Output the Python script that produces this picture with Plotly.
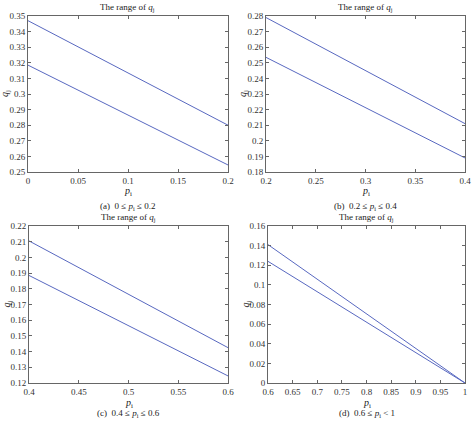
import plotly.graph_objects as go

W, H = 474, 421

# ---- data ----
p_a = [0.0, 0.1, 0.2]
q_a_upper = [0.347, 0.3135, 0.280]
q_a_lower = [0.3185, 0.2865, 0.2545]

p_b = [0.2, 0.3, 0.4]
q_b_upper = [0.279, 0.245, 0.211]
q_b_lower = [0.2535, 0.2215, 0.189]

p_c = [0.4, 0.5, 0.6]
q_c_upper = [0.2105, 0.1765, 0.1425]
q_c_lower = [0.1885, 0.1565, 0.1245]

p_d = [0.6, 0.8, 1.0]
q_d_upper = [0.141, 0.0705, 0.0]
q_d_lower = [0.124, 0.062, 0.0]

xt_a = [0, 0.05, 0.1, 0.15, 0.2]
xl_a = ["0", "0.05", "0.1", "0.15", "0.2"]
yt_a = [0.25, 0.26, 0.27, 0.28, 0.29, 0.30, 0.31, 0.32, 0.33, 0.34, 0.35]
yl_a = ["0.25", "0.26", "0.27", "0.28", "0.29", "0.3", "0.31", "0.32", "0.33", "0.34", "0.35"]

xt_b = [0.2, 0.25, 0.3, 0.35, 0.4]
xl_b = ["0.2", "0.25", "0.3", "0.35", "0.4"]
yt_b = [0.18, 0.19, 0.20, 0.21, 0.22, 0.23, 0.24, 0.25, 0.26, 0.27, 0.28]
yl_b = ["0.18", "0.19", "0.2", "0.21", "0.22", "0.23", "0.24", "0.25", "0.26", "0.27", "0.28"]

xt_c = [0.4, 0.45, 0.5, 0.55, 0.6]
xl_c = ["0.4", "0.45", "0.5", "0.55", "0.6"]
yt_c = [0.12, 0.13, 0.14, 0.15, 0.16, 0.17, 0.18, 0.19, 0.20, 0.21, 0.22]
yl_c = ["0.12", "0.13", "0.14", "0.15", "0.16", "0.17", "0.18", "0.19", "0.2", "0.21", "0.22"]

xt_d = [0.6, 0.65, 0.7, 0.75, 0.8, 0.85, 0.9, 0.95, 1.0]
xl_d = ["0.6", "0.65", "0.7", "0.75", "0.8", "0.85", "0.9", "0.95", "1"]
yt_d = [0, 0.02, 0.04, 0.06, 0.08, 0.1, 0.12, 0.14, 0.16]
yl_d = ["0", "0.02", "0.04", "0.06", "0.08", "0.1", "0.12", "0.14", "0.16"]

captions = ["(a)  0 ≤ <i>p</i><sub>i</sub> ≤ 0.2", "(b)  0.2 ≤ <i>p</i><sub>i</sub> ≤ 0.4",
            "(c)  0.4 ≤ <i>p</i><sub>i</sub> ≤ 0.6", "(d)  0.6 ≤ <i>p</i><sub>i</sub> < 1"]
title_txt = "The range of <i>q</i><sub>j</sub>"

# ---- layout (pixel boxes: left, right, top, bottom, caption y) ----
boxes = [(28, 228, 16, 172, 206), (266, 465, 16, 172, 206),
         (29, 228, 226, 383, 413), (268, 465, 226, 383, 413)]
panels = [
    (p_a, q_a_upper, q_a_lower, xt_a, xl_a, yt_a, yl_a, [0, 0.2], [0.25, 0.35]),
    (p_b, q_b_upper, q_b_lower, xt_b, xl_b, yt_b, yl_b, [0.2, 0.4], [0.18, 0.28]),
    (p_c, q_c_upper, q_c_lower, xt_c, xl_c, yt_c, yl_c, [0.4, 0.6], [0.12, 0.22]),
    (p_d, q_d_upper, q_d_lower, xt_d, xl_d, yt_d, yl_d, [0.6, 1.0], [0, 0.16]),
]

FONT = "Liberation Serif"
LINE = "#5868c0"
fig = go.Figure()
annotations = []
layout = dict(width=W, height=H, margin=dict(l=0, r=0, t=0, b=0, autoexpand=False),
              paper_bgcolor="white", plot_bgcolor="white", showlegend=False,
              font=dict(family=FONT, size=9, color="#333"))


def ann(text, x, y, size=9, angle=0):
    return dict(text=text, x=x / W, y=1 - y / H, xref="paper", yref="paper",
                xanchor="center", yanchor="middle", showarrow=False, textangle=angle,
                font=dict(family=FONT, size=size, color="#222"))


for i, ((L, R, T, B, CY), (px, qu, ql, xt, xl, yt, yl, xr, yr)) in enumerate(zip(boxes, panels)):
    n = "" if i == 0 else str(i + 1)
    xa, ya = "x" + n, "y" + n
    for q in (qu, ql):
        fig.add_trace(go.Scatter(x=px, y=q, mode="lines", xaxis=xa, yaxis=ya,
                                 line=dict(color=LINE, width=1)))
    axcommon = dict(showgrid=False, zeroline=False, showline=True, linecolor="#666",
                    linewidth=1, mirror="ticks", ticks="inside", ticklen=3, automargin=False,
                    tickcolor="#666", tickfont=dict(family=FONT, size=9, color="#333"))
    layout["xaxis" + n] = dict(axcommon, domain=[L / W, R / W], range=xr, anchor=ya,
                               tickvals=xt, ticktext=xl)
    layout["yaxis" + n] = dict(axcommon, domain=[1 - B / H, 1 - T / H], range=yr, anchor=xa,
                               tickvals=yt, ticktext=yl)
    cx = (L + R) / 2
    annotations.append(ann(title_txt, cx, T - 8))
    annotations.append(ann("<i>p</i><sub>i</sub>", cx, B + 20, size=10))
    annotations.append(ann(captions[i], cx, CY))
    annotations.append(ann("<i>q</i><sub>j</sub>", L - 22, (T + B) / 2, size=10, angle=-90))

layout["annotations"] = annotations
fig.update_layout(**layout)
fig.write_html("out.html")
